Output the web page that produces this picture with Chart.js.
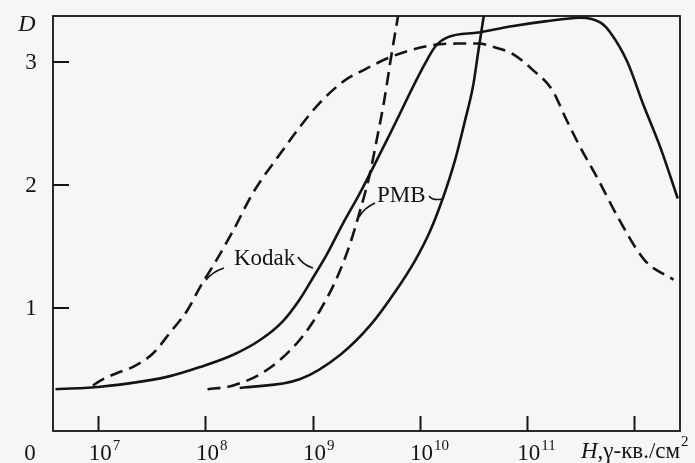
<!DOCTYPE html>
<html>
<head>
<meta charset="utf-8">
<script src="https://cdn.jsdelivr.net/npm/chart.js@4/dist/chart.umd.min.js"></script>
<style>
  html, body { margin: 0; padding: 0; background: #f6f6f6; }
  #wrap { width: 695px; height: 463px; }
</style>
</head>
<body>
<div id="wrap"><canvas id="chart" width="695" height="463"></canvas></div>
<script>
// exposure H is kept as log10 exponents, density D as read
const kodakDashedExp = [6.95, 7.02, 7.20, 7.32, 7.51, 7.67, 7.83, 7.95, 8.09, 8.26, 8.44, 8.72, 8.88, 9.07, 9.30, 9.49, 9.70, 9.93, 10.14, 10.36, 10.55, 10.70, 10.86, 11.05, 11.24, 11.36, 11.48, 11.67, 11.85, 12.10, 12.37];
const kodakDashedD = [0.37, 0.41, 0.48, 0.52, 0.63, 0.80, 0.98, 1.17, 1.37, 1.63, 1.93, 2.28, 2.47, 2.67, 2.85, 2.94, 3.03, 3.10, 3.14, 3.15, 3.15, 3.12, 3.07, 2.94, 2.77, 2.55, 2.34, 2.04, 1.74, 1.39, 1.23];

const kodakSolidExp = [6.60, 7.02, 7.64, 7.95, 8.26, 8.51, 8.72, 8.88, 9.00, 9.13, 9.28, 9.44, 9.72, 10.04, 10.15, 10.26, 10.55, 10.86, 11.17, 11.50, 11.69, 11.78, 11.94, 12.09, 12.25, 12.41];
const kodakSolidD = [0.34, 0.36, 0.44, 0.52, 0.62, 0.74, 0.89, 1.07, 1.24, 1.43, 1.68, 1.93, 2.41, 2.97, 3.13, 3.20, 3.24, 3.29, 3.33, 3.36, 3.32, 3.24, 3.00, 2.65, 2.30, 1.89];

const pmbSolidExp = [8.32, 8.88, 9.26, 9.54, 9.77, 9.96, 10.10, 10.22, 10.33, 10.42, 10.50, 10.55, 10.60, 10.62];
const pmbSolidD = [0.35, 0.42, 0.62, 0.86, 1.13, 1.39, 1.63, 1.90, 2.20, 2.51, 2.81, 3.10, 3.38, 3.50];

const pmbDashedExp = [8.02, 8.26, 8.58, 8.88, 9.07, 9.23, 9.35, 9.44, 9.53, 9.60, 9.67, 9.73, 9.79, 9.82];
const pmbDashedD = [0.34, 0.37, 0.50, 0.74, 0.98, 1.25, 1.52, 1.78, 2.07, 2.37, 2.69, 3.02, 3.33, 3.48];

const xTickExps = [7, 8, 9, 10, 11, 12];
const xTickLabels = ['7', '8', '9', '10', '11', ''];
const yTickValues = [1, 2, 3];
const yTickLabels = ['1', '2', '3'];

const xMinExp = 6.577, xMaxExp = 12.431;
const yMax = 3.374;

const INK = '#141414';
const SERIF = '"Liberation Serif", "Times New Roman", serif';

function toPoints(exps, ds) {
  return exps.map((e, i) => ({ x: Math.pow(10, e), y: ds[i] }));
}

function curve(label, exps, ds, dashed) {
  return {
    label,
    data: toPoints(exps, ds),
    borderColor: INK,
    borderWidth: 2.6,
    borderDash: dashed ? [13, 7] : [],
    pointRadius: 0,
    fill: false,
    cubicInterpolationMode: 'monotone',
  };
}

const axisDecor = {
  id: 'axisDecor',
  beforeDraw(chart) {
    const c = chart.ctx;
    c.save();
    c.fillStyle = '#f6f6f6';
    c.fillRect(0, 0, chart.width, chart.height);
    c.restore();
  },
  afterDraw(chart) {
    const c = chart.ctx;
    const a = chart.chartArea;
    const xs = chart.scales.x, ys = chart.scales.y;
    c.save();
    c.strokeStyle = INK;
    c.fillStyle = INK;

    // frame
    c.lineWidth = 1.8;
    c.strokeRect(a.left, a.top, a.right - a.left, a.bottom - a.top);

    // inner ticks
    c.lineWidth = 2;
    c.beginPath();
    xTickExps.forEach(e => {
      const px = Math.round(xs.getPixelForValue(Math.pow(10, e))) + 0.5;
      c.moveTo(px, a.bottom);
      c.lineTo(px, a.bottom - 15);
    });
    yTickValues.forEach(v => {
      const py = Math.round(ys.getPixelForValue(v));
      c.moveTo(a.left, py);
      c.lineTo(a.left + 16, py);
    });
    c.stroke();

    // y tick labels
    c.font = '23px ' + SERIF;
    c.textAlign = 'center';
    c.textBaseline = 'middle';
    yTickValues.forEach((v, i) => {
      c.fillText(yTickLabels[i], 31, ys.getPixelForValue(v) + 1);
    });
    c.textBaseline = 'alphabetic';
    c.fillText('0', 30, 460);

    // x tick labels: 10 with raised exponent
    xTickExps.forEach((e, i) => {
      if (!xTickLabels[i]) return;
      const px = xs.getPixelForValue(Math.pow(10, e));
      c.font = '23px ' + SERIF;
      c.textAlign = 'center';
      c.fillText('10', px + 2, 460);
      const w = c.measureText('10').width;
      c.font = '15px ' + SERIF;
      c.textAlign = 'left';
      c.fillText(xTickLabels[i], px + 2 + w / 2 + 1, 450);
    });

    // axis titles
    c.font = 'italic 24px ' + SERIF;
    c.textAlign = 'center';
    c.fillText('D', 27, 31);

    c.textAlign = 'left';
    let tx = 581;
    c.font = 'italic 23px ' + SERIF;
    c.fillText('H', tx, 458);
    tx += c.measureText('H').width;
    c.font = '23px ' + SERIF;
    c.fillText(',γ-кв./см', tx, 458);
    tx += c.measureText(',γ-кв./см').width;
    c.font = '15px ' + SERIF;
    c.fillText('2', tx + 1, 446);

    // curve names
    c.font = '23px ' + SERIF;
    c.fillText('Kodak', 234, 265);
    c.fillText('PMB', 377, 202);

    // leaders
    c.lineWidth = 1.6;
    c.beginPath();
    c.moveTo(206, 280);
    c.quadraticCurveTo(212, 272, 224, 268);
    c.moveTo(298, 257);
    c.quadraticCurveTo(303, 265, 313, 268);
    c.moveTo(375, 203);
    c.quadraticCurveTo(364, 208, 359, 217);
    c.moveTo(429, 196);
    c.quadraticCurveTo(433, 201, 442, 199);
    c.stroke();

    c.restore();
  }
};

new Chart(document.getElementById('chart').getContext('2d'), {
  type: 'line',
  data: {
    datasets: [
      curve('Kodak', kodakDashedExp, kodakDashedD, true),
      curve('Kodak', kodakSolidExp, kodakSolidD, false),
      curve('PMB', pmbSolidExp, pmbSolidD, false),
      curve('PMB', pmbDashedExp, pmbDashedD, true),
    ],
  },
  options: {
    responsive: false,
    animation: false,
    events: [],
    layout: { padding: { left: 53, top: 16, right: 15, bottom: 32 } },
    plugins: { legend: { display: false }, tooltip: { enabled: false } },
    scales: {
      x: {
        type: 'logarithmic',
        display: false,
        bounds: 'data',
        min: Math.pow(10, xMinExp),
        max: Math.pow(10, xMaxExp),
      },
      y: {
        type: 'linear',
        display: false,
        min: 0,
        max: yMax,
      },
    },
  },
  plugins: [axisDecor],
});
</script>
</body>
</html>
